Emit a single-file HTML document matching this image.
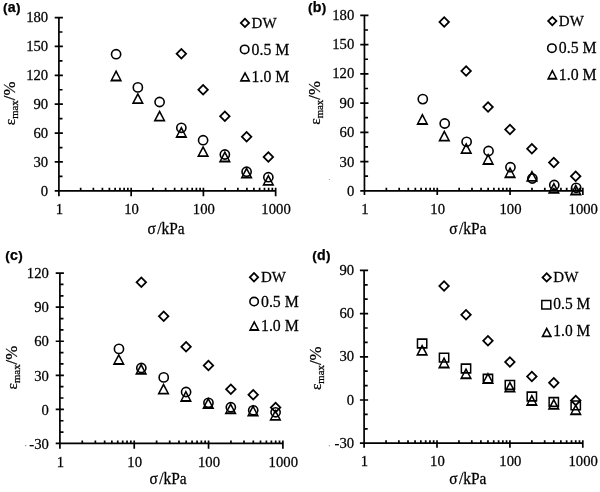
<!DOCTYPE html>
<html><head><meta charset="utf-8"><title>chart</title>
<style>
html,body{margin:0;padding:0;background:#fff;}
body{width:600px;height:492px;overflow:hidden;}
svg{display:block;}
.par{font-size:13.5px;}
.tag{font-family:"Liberation Sans",Arial,sans-serif;font-weight:bold;font-size:14.2px;}
</style></head><body>
<svg width="600" height="492" viewBox="0 0 600 492">
<path d="M58.9 17.55V196.15M54.7 190.85H275.65M54.7 190.85H62.9M54.7 161.97H62.9M54.7 133.08H62.9M54.7 104.2H62.9M54.7 75.32H62.9M54.7 46.43H62.9M54.7 17.55H62.9M58.9 176.41H62.5M58.9 147.53H62.5M58.9 118.64H62.5M58.9 89.76H62.5M58.9 60.88H62.5M58.9 31.99H62.5M80.65 190.85V187.85M93.37 190.85V187.85M102.4 190.85V187.85M109.4 190.85V187.85M115.12 190.85V187.85M119.96 190.85V187.85M124.15 190.85V187.85M127.84 190.85V187.85M131.15 187.85V196.15M152.9 190.85V187.85M165.62 190.85V187.85M174.65 190.85V187.85M181.65 190.85V187.85M187.37 190.85V187.85M192.21 190.85V187.85M196.4 190.85V187.85M200.09 190.85V187.85M203.4 187.85V196.15M225.15 190.85V187.85M237.87 190.85V187.85M246.9 190.85V187.85M253.9 190.85V187.85M259.62 190.85V187.85M264.46 190.85V187.85M268.65 190.85V187.85M272.34 190.85V187.85M275.65 187.85V196.15M364.45 15.4V195M360.25 190.8H582.85M360.25 190.8H368.45M360.25 161.57H368.45M360.25 132.33H368.45M360.25 103.1H368.45M360.25 73.87H368.45M360.25 44.63H368.45M360.25 15.4H368.45M364.45 176.18H368.05M364.45 146.95H368.05M364.45 117.72H368.05M364.45 88.48H368.05M364.45 59.25H368.05M364.45 30.02H368.05M386.36 190.8V187.8M399.18 190.8V187.8M408.28 190.8V187.8M415.34 190.8V187.8M421.1 190.8V187.8M425.97 190.8V187.8M430.19 190.8V187.8M433.92 190.8V187.8M437.25 187.8V195M459.16 190.8V187.8M471.98 190.8V187.8M481.08 190.8V187.8M488.14 190.8V187.8M493.9 190.8V187.8M498.77 190.8V187.8M502.99 190.8V187.8M506.72 190.8V187.8M510.05 187.8V195M531.96 190.8V187.8M544.78 190.8V187.8M553.88 190.8V187.8M560.94 190.8V187.8M566.7 190.8V187.8M571.57 190.8V187.8M575.79 190.8V187.8M579.52 190.8V187.8M582.85 187.8V195M59.9 273.1V448.75M55.7 443.45H282.89M55.7 443.45H63.9M55.7 409.38H63.9M55.7 375.31H63.9M55.7 341.24H63.9M55.7 307.17H63.9M55.7 273.1H63.9M59.9 432.09H63.5M59.9 420.74H63.5M59.9 398.02H63.5M59.9 386.67H63.5M59.9 363.95H63.5M59.9 352.6H63.5M59.9 329.88H63.5M59.9 318.53H63.5M59.9 295.81H63.5M59.9 284.46H63.5M82.28 443.45V440.45M95.36 443.45V440.45M104.65 443.45V440.45M111.85 443.45V440.45M117.74 443.45V440.45M122.72 443.45V440.45M127.03 443.45V440.45M130.83 443.45V440.45M134.23 440.45V448.75M156.61 443.45V440.45M169.69 443.45V440.45M178.98 443.45V440.45M186.18 443.45V440.45M192.07 443.45V440.45M197.05 443.45V440.45M201.36 443.45V440.45M205.16 443.45V440.45M208.56 440.45V448.75M230.94 443.45V440.45M244.02 443.45V440.45M253.31 443.45V440.45M260.51 443.45V440.45M266.4 443.45V440.45M271.38 443.45V440.45M275.69 443.45V440.45M279.49 443.45V440.45M282.89 440.45V448.75M364.1 270.4V447.8M359.9 443.2H582.8M359.9 443.2H368.1M359.9 400H368.1M359.9 356.8H368.1M359.9 313.6H368.1M359.9 270.4H368.1M364.1 428.8H367.7M364.1 414.4H367.7M364.1 385.6H367.7M364.1 371.2H367.7M364.1 342.4H367.7M364.1 328H367.7M364.1 299.2H367.7M364.1 284.8H367.7M386.05 443.2V440.2M398.88 443.2V440.2M407.99 443.2V440.2M415.05 443.2V440.2M420.83 443.2V440.2M425.71 443.2V440.2M429.94 443.2V440.2M433.66 443.2V440.2M437 440.2V447.8M458.95 443.2V440.2M471.78 443.2V440.2M480.89 443.2V440.2M487.95 443.2V440.2M493.73 443.2V440.2M498.61 443.2V440.2M502.84 443.2V440.2M506.56 443.2V440.2M509.9 440.2V447.8M531.85 443.2V440.2M544.68 443.2V440.2M553.79 443.2V440.2M560.85 443.2V440.2M566.63 443.2V440.2M571.51 443.2V440.2M575.74 443.2V440.2M579.46 443.2V440.2M582.8 440.2V447.8" fill="none" stroke="#000" stroke-width="1.7"/>
<path d="M244.95 17.55L250.35 22.95L244.95 28.35L239.55 22.95ZM244.95 20.05L242.05 22.95L244.95 25.85L247.85 22.95ZM245.05 71.19L250.54 81.81L239.56 81.81ZM245.05 74.69L242.16 79.91L247.94 79.91ZM181.35 47.7L187.35 53.7L181.35 59.7L175.35 53.7ZM181.35 50.2L177.85 53.7L181.35 57.2L184.85 53.7ZM203.1 83.7L209.1 89.7L203.1 95.7L197.1 89.7ZM203.1 86.2L199.6 89.7L203.1 93.2L206.6 89.7ZM224.85 110.2L230.85 116.2L224.85 122.2L218.85 116.2ZM224.85 112.7L221.35 116.2L224.85 119.7L228.35 116.2ZM246.6 130.8L252.6 136.8L246.6 142.8L240.6 136.8ZM246.6 133.3L243.1 136.8L246.6 140.3L250.1 136.8ZM268.35 150.9L274.35 156.9L268.35 162.9L262.35 156.9ZM268.35 153.4L264.85 156.9L268.35 160.4L271.85 156.9ZM116.1 69.6L122.2 81.4L110 81.4ZM116.1 73.1L112.6 79.5L119.6 79.5ZM137.85 92.3L143.95 104.1L131.75 104.1ZM137.85 95.8L134.35 102.2L141.35 102.2ZM159.6 109.8L165.7 121.6L153.5 121.6ZM159.6 113.3L156.1 119.7L163.1 119.7ZM181.35 126.1L187.45 137.9L175.25 137.9ZM181.35 129.6L177.85 136L184.85 136ZM203.1 145.3L209.2 157.1L197 157.1ZM203.1 148.8L199.6 155.2L206.6 155.2ZM224.85 150.6L230.95 162.4L218.75 162.4ZM224.85 154.1L221.35 160.5L228.35 160.5ZM246.6 166.7L252.7 178.5L240.5 178.5ZM246.6 170.2L243.1 176.6L250.1 176.6ZM268.35 174L274.45 185.8L262.25 185.8ZM268.35 177.5L264.85 183.9L271.85 183.9ZM552.3 15.7L557.7 21.1L552.3 26.5L546.9 21.1ZM552.3 18.2L549.4 21.1L552.3 24L555.2 21.1ZM552.35 69.04L557.84 79.66L546.86 79.66ZM552.35 72.54L549.46 77.76L555.24 77.76ZM444.21 15.95L450.21 21.95L444.21 27.95L438.21 21.95ZM444.21 18.45L440.71 21.95L444.21 25.45L447.71 21.95ZM466.12 65L472.12 71L466.12 77L460.12 71ZM466.12 67.5L462.62 71L466.12 74.5L469.62 71ZM488.04 100.9L494.04 106.9L488.04 112.9L482.04 106.9ZM488.04 103.4L484.54 106.9L488.04 110.4L491.54 106.9ZM509.95 123.5L515.95 129.5L509.95 135.5L503.95 129.5ZM509.95 126L506.45 129.5L509.95 133L513.45 129.5ZM531.86 142.8L537.86 148.8L531.86 154.8L525.86 148.8ZM531.86 145.3L528.36 148.8L531.86 152.3L535.36 148.8ZM553.78 156.4L559.78 162.4L553.78 168.4L547.78 162.4ZM553.78 158.9L550.28 162.4L553.78 165.9L557.28 162.4ZM575.69 170.2L581.69 176.2L575.69 182.2L569.69 176.2ZM575.69 172.7L572.19 176.2L575.69 179.7L579.19 176.2ZM422.39 113.1L428.49 124.9L416.29 124.9ZM422.39 116.6L418.89 123L425.89 123ZM444.31 129.8L450.41 141.6L438.21 141.6ZM444.31 133.3L440.81 139.7L447.81 139.7ZM466.22 142.3L472.32 154.1L460.12 154.1ZM466.22 145.8L462.72 152.2L469.72 152.2ZM488.14 153.1L494.24 164.9L482.04 164.9ZM488.14 156.6L484.64 163L491.64 163ZM510.05 166.4L516.15 178.2L503.95 178.2ZM510.05 169.9L506.55 176.3L513.55 176.3ZM531.96 170L538.06 181.8L525.86 181.8ZM531.96 173.5L528.46 179.9L535.46 179.9ZM553.88 181.9L559.98 193.7L547.78 193.7ZM553.88 185.4L550.38 191.8L557.38 191.8ZM575.79 183.7L581.89 195.5L569.69 195.5ZM575.79 187.2L572.29 193.6L579.29 193.6ZM254 271.85L259.4 277.25L254 282.65L248.6 277.25ZM254 274.35L251.1 277.25L254 280.15L256.9 277.25ZM254.25 320.29L259.74 330.91L248.76 330.91ZM254.25 323.79L251.36 329.01L257.14 329.01ZM141.33 276.2L147.33 282.2L141.33 288.2L135.33 282.2ZM141.33 278.7L137.83 282.2L141.33 285.7L144.83 282.2ZM163.71 310.3L169.71 316.3L163.71 322.3L157.71 316.3ZM163.71 312.8L160.21 316.3L163.71 319.8L167.21 316.3ZM186.08 340.8L192.08 346.8L186.08 352.8L180.08 346.8ZM186.08 343.3L182.58 346.8L186.08 350.3L189.58 346.8ZM208.46 359.6L214.46 365.6L208.46 371.6L202.46 365.6ZM208.46 362.1L204.96 365.6L208.46 369.1L211.96 365.6ZM230.84 383.3L236.84 389.3L230.84 395.3L224.84 389.3ZM230.84 385.8L227.34 389.3L230.84 392.8L234.34 389.3ZM253.21 388.8L259.21 394.8L253.21 400.8L247.21 394.8ZM253.21 391.3L249.71 394.8L253.21 398.3L256.71 394.8ZM275.59 401.5L281.59 407.5L275.59 413.5L269.59 407.5ZM275.59 404L272.09 407.5L275.59 411L279.09 407.5ZM118.76 353.2L124.86 365L112.66 365ZM118.76 356.7L115.26 363.1L122.26 363.1ZM141.13 363L147.23 374.8L135.03 374.8ZM141.13 366.5L137.63 372.9L144.63 372.9ZM163.51 382.8L169.61 394.6L157.41 394.6ZM163.51 386.3L160.01 392.7L167.01 392.7ZM185.88 390.1L191.98 401.9L179.78 401.9ZM185.88 393.6L182.38 400L189.38 400ZM208.26 397.1L214.36 408.9L202.16 408.9ZM208.26 400.6L204.76 407L211.76 407ZM230.64 402.4L236.74 414.2L224.54 414.2ZM230.64 405.9L227.14 412.3L234.14 412.3ZM253.01 404.6L259.11 416.4L246.91 416.4ZM253.01 408.1L249.51 414.5L256.51 414.5ZM275.39 409L281.49 420.8L269.29 420.8ZM275.39 412.5L271.89 418.9L278.89 418.9ZM546.7 272.05L552.1 277.45L546.7 282.85L541.3 277.45ZM546.7 274.55L543.8 277.45L546.7 280.35L549.6 277.45ZM541.06 299.71H551.54V309.79H541.06ZM542.56 301.31V308.19H550.04V301.31ZM546.7 326.74L552.19 337.36L541.21 337.36ZM546.7 330.24L543.81 335.46L549.59 335.46ZM444.06 279.9L450.06 285.9L444.06 291.9L438.06 285.9ZM444.06 282.4L440.56 285.9L444.06 289.4L447.56 285.9ZM466.01 308.7L472.01 314.7L466.01 320.7L460.01 314.7ZM466.01 311.2L462.51 314.7L466.01 318.2L469.51 314.7ZM487.95 334.8L493.95 340.8L487.95 346.8L481.95 340.8ZM487.95 337.3L484.45 340.8L487.95 344.3L491.45 340.8ZM509.9 356.1L515.9 362.1L509.9 368.1L503.9 362.1ZM509.9 358.6L506.4 362.1L509.9 365.6L513.4 362.1ZM531.85 370.4L537.85 376.4L531.85 382.4L525.85 376.4ZM531.85 372.9L528.35 376.4L531.85 379.9L535.35 376.4ZM553.79 376.8L559.79 382.8L553.79 388.8L547.79 382.8ZM553.79 379.3L550.29 382.8L553.79 386.3L557.29 382.8ZM575.74 394.4L581.74 400.4L575.74 406.4L569.74 400.4ZM575.74 396.9L572.24 400.4L575.74 403.9L579.24 400.4ZM416.72 338.3H427.52V348.7H416.72ZM418.22 339.9V347.1H426.02V339.9ZM438.66 352.4H449.46V362.8H438.66ZM440.16 354V361.2H447.96V354ZM460.61 363.3H471.41V373.7H460.61ZM462.11 364.9V372.1H469.91V364.9ZM482.55 373.6H493.35V384H482.55ZM484.05 375.2V382.4H491.85V375.2ZM504.5 379.7H515.3V390.1H504.5ZM506 381.3V388.5H513.8V381.3ZM526.45 391.3H537.25V401.7H526.45ZM527.95 392.9V400.1H535.75V392.9ZM548.39 396.8H559.19V407.2H548.39ZM549.89 398.4V405.6H557.69V398.4ZM570.34 400.2H581.14V410.6H570.34ZM571.84 401.8V409H579.64V401.8ZM422.12 344L428.22 355.8L416.02 355.8ZM422.12 347.5L418.62 353.9L425.62 353.9ZM444.06 356.6L450.16 368.4L437.96 368.4ZM444.06 360.1L440.56 366.5L447.56 366.5ZM466.01 367.4L472.11 379.2L459.91 379.2ZM466.01 370.9L462.51 377.3L469.51 377.3ZM487.95 372.1L494.05 383.9L481.85 383.9ZM487.95 375.6L484.45 382L491.45 382ZM509.9 380.7L516 392.5L503.8 392.5ZM509.9 384.2L506.4 390.6L513.4 390.6ZM531.85 394.1L537.95 405.9L525.75 405.9ZM531.85 397.6L528.35 404L535.35 404ZM553.79 398L559.89 409.8L547.69 409.8ZM553.79 401.5L550.29 407.9L557.29 407.9ZM575.74 403.4L581.84 415.2L569.64 415.2ZM575.74 406.9L572.24 413.3L579.24 413.3Z" fill="#000" fill-rule="nonzero"/>
<circle cx="244.65" cy="49.4" r="4.22" fill="none" stroke="#000" stroke-width="1.6"/>
<circle cx="116.1" cy="54.2" r="4.6" fill="none" stroke="#000" stroke-width="1.6"/>
<circle cx="137.85" cy="87.4" r="4.6" fill="none" stroke="#000" stroke-width="1.6"/>
<circle cx="159.6" cy="102" r="4.6" fill="none" stroke="#000" stroke-width="1.6"/>
<circle cx="181.35" cy="127.8" r="4.6" fill="none" stroke="#000" stroke-width="1.6"/>
<circle cx="203.1" cy="140.2" r="4.6" fill="none" stroke="#000" stroke-width="1.6"/>
<circle cx="224.85" cy="154.5" r="4.6" fill="none" stroke="#000" stroke-width="1.6"/>
<circle cx="246.6" cy="171.7" r="4.6" fill="none" stroke="#000" stroke-width="1.6"/>
<circle cx="268.35" cy="177.2" r="4.6" fill="none" stroke="#000" stroke-width="1.6"/>
<circle cx="551.9" cy="48.15" r="4.22" fill="none" stroke="#000" stroke-width="1.6"/>
<circle cx="422.79" cy="99.1" r="4.6" fill="none" stroke="#000" stroke-width="1.6"/>
<circle cx="444.71" cy="123.5" r="4.6" fill="none" stroke="#000" stroke-width="1.6"/>
<circle cx="466.62" cy="141.8" r="4.6" fill="none" stroke="#000" stroke-width="1.6"/>
<circle cx="488.54" cy="151" r="4.6" fill="none" stroke="#000" stroke-width="1.6"/>
<circle cx="510.45" cy="167.2" r="4.6" fill="none" stroke="#000" stroke-width="1.6"/>
<circle cx="532.36" cy="178.5" r="4.6" fill="none" stroke="#000" stroke-width="1.6"/>
<circle cx="554.28" cy="185" r="4.6" fill="none" stroke="#000" stroke-width="1.6"/>
<circle cx="576.19" cy="187.8" r="4.6" fill="none" stroke="#000" stroke-width="1.6"/>
<circle cx="254.1" cy="301.55" r="4.22" fill="none" stroke="#000" stroke-width="1.6"/>
<circle cx="118.96" cy="348.9" r="4.6" fill="none" stroke="#000" stroke-width="1.6"/>
<circle cx="141.33" cy="368" r="4.6" fill="none" stroke="#000" stroke-width="1.6"/>
<circle cx="163.71" cy="377.4" r="4.6" fill="none" stroke="#000" stroke-width="1.6"/>
<circle cx="186.08" cy="392" r="4.6" fill="none" stroke="#000" stroke-width="1.6"/>
<circle cx="208.46" cy="402.8" r="4.6" fill="none" stroke="#000" stroke-width="1.6"/>
<circle cx="230.84" cy="407.2" r="4.6" fill="none" stroke="#000" stroke-width="1.6"/>
<circle cx="253.21" cy="410.3" r="4.6" fill="none" stroke="#000" stroke-width="1.6"/>
<circle cx="275.59" cy="412.3" r="4.6" fill="none" stroke="#000" stroke-width="1.6"/>
<g fill="#999"><rect x="25" y="445" width="1.2" height="1.2"/><rect x="328.8" y="445.1" width="1.2" height="1.2"/><rect x="328.9" y="179" width="1" height="1"/></g>
<g font-family="Liberation Serif, serif" font-size="14.7" fill="#000" stroke="#000" stroke-width="0.25">
<text transform="translate(48.2 196.1) scale(1 1.03)" font-size="14.7" text-anchor="end">0</text>
<text transform="translate(48.2 167.06) scale(1 1.03)" font-size="14.7" text-anchor="end">30</text>
<text transform="translate(48.2 138.02) scale(1 1.03)" font-size="14.7" text-anchor="end">60</text>
<text transform="translate(48.2 108.97) scale(1 1.03)" font-size="14.7" text-anchor="end">90</text>
<text transform="translate(48.2 79.93) scale(1 1.03)" font-size="14.7" text-anchor="end">120</text>
<text transform="translate(48.2 50.89) scale(1 1.03)" font-size="14.7" text-anchor="end">150</text>
<text transform="translate(48.2 21.85) scale(1 1.03)" font-size="14.7" text-anchor="end">180</text>
<text transform="translate(59.3 214) scale(1 1.03)" font-size="14.7" text-anchor="middle">1</text>
<text transform="translate(131.55 214) scale(1 1.03)" font-size="14.7" text-anchor="middle">10</text>
<text transform="translate(203.8 214) scale(1 1.03)" font-size="14.7" text-anchor="middle">100</text>
<text transform="translate(276.05 214) scale(1 1.03)" font-size="14.7" text-anchor="middle">1000</text>
<text transform="translate(166 233.7) scale(1 1.03)" font-size="15.4" text-anchor="middle">σ<tspan dx="1.5">/kPa</tspan></text>
<text transform="translate(15.1 125.3) rotate(-90)" font-size="15.3">ε<tspan font-size="10.8" dy="3">max</tspan><tspan dy="-3" font-size="16.8">/%</tspan></text>
<text class="tag" x="3" y="12"><tspan class="par" dy="0.15">(</tspan><tspan dx="0.3" dy="-0.15">a</tspan><tspan class="par" dx="0.3" dy="0.15">)</tspan></text>
<text transform="translate(251.6 27.9) scale(1 1.04)" font-size="15.0">DW</text>
<text transform="translate(251.6 54.7) scale(1 1.06)" font-size="15.8">0.5 M</text>
<text transform="translate(251.6 81.9) scale(1 1.06)" font-size="15.8">1.0 M</text>
<text transform="translate(354.25 195.95) scale(1 1.03)" font-size="14.7" text-anchor="end">0</text>
<text transform="translate(354.25 166.58) scale(1 1.03)" font-size="14.7" text-anchor="end">30</text>
<text transform="translate(354.25 137.22) scale(1 1.03)" font-size="14.7" text-anchor="end">60</text>
<text transform="translate(354.25 107.85) scale(1 1.03)" font-size="14.7" text-anchor="end">90</text>
<text transform="translate(354.25 78.48) scale(1 1.03)" font-size="14.7" text-anchor="end">120</text>
<text transform="translate(354.25 49.12) scale(1 1.03)" font-size="14.7" text-anchor="end">150</text>
<text transform="translate(354.25 19.75) scale(1 1.03)" font-size="14.7" text-anchor="end">180</text>
<text transform="translate(364.85 213.95) scale(1 1.03)" font-size="14.7" text-anchor="middle">1</text>
<text transform="translate(437.65 213.95) scale(1 1.03)" font-size="14.7" text-anchor="middle">10</text>
<text transform="translate(510.45 213.95) scale(1 1.03)" font-size="14.7" text-anchor="middle">100</text>
<text transform="translate(583.25 213.95) scale(1 1.03)" font-size="14.7" text-anchor="middle">1000</text>
<text transform="translate(467.8 234) scale(1 1.03)" font-size="15.4" text-anchor="middle">σ<tspan dx="1.5">/kPa</tspan></text>
<text transform="translate(320.4 124.8) rotate(-90)" font-size="15.3">ε<tspan font-size="10.8" dy="3">max</tspan><tspan dy="-3" font-size="16.8">/%</tspan></text>
<text class="tag" x="308" y="12"><tspan class="par" dy="0.15">(</tspan><tspan dx="0.3" dy="-0.15">b</tspan><tspan class="par" dx="0.3" dy="0.15">)</tspan></text>
<text transform="translate(558.85 25.75) scale(1 1.04)" font-size="15.0">DW</text>
<text transform="translate(558.85 52.7) scale(1 1.06)" font-size="15.8">0.5 M</text>
<text transform="translate(558.85 79.7) scale(1 1.06)" font-size="15.8">1.0 M</text>
<text transform="translate(48.85 449.25) scale(1 1.03)" font-size="14.7" text-anchor="end">-30</text>
<text transform="translate(48.85 414.99) scale(1 1.03)" font-size="14.7" text-anchor="end">0</text>
<text transform="translate(48.85 380.73) scale(1 1.03)" font-size="14.7" text-anchor="end">30</text>
<text transform="translate(48.85 346.47) scale(1 1.03)" font-size="14.7" text-anchor="end">60</text>
<text transform="translate(48.85 312.21) scale(1 1.03)" font-size="14.7" text-anchor="end">90</text>
<text transform="translate(48.85 277.95) scale(1 1.03)" font-size="14.7" text-anchor="end">120</text>
<text transform="translate(60.3 466.5) scale(1 1.03)" font-size="14.7" text-anchor="middle">1</text>
<text transform="translate(134.63 466.5) scale(1 1.03)" font-size="14.7" text-anchor="middle">10</text>
<text transform="translate(208.96 466.5) scale(1 1.03)" font-size="14.7" text-anchor="middle">100</text>
<text transform="translate(283.29 466.5) scale(1 1.03)" font-size="14.7" text-anchor="middle">1000</text>
<text transform="translate(168 484.3) scale(1 1.03)" font-size="15.4" text-anchor="middle">σ<tspan dx="1.5">/kPa</tspan></text>
<text transform="translate(16.5 389.5) rotate(-90)" font-size="15.3">ε<tspan font-size="10.8" dy="3">max</tspan><tspan dy="-3" font-size="16.8">/%</tspan></text>
<text class="tag" x="5.25" y="259.75"><tspan class="par" dy="0.15">(</tspan><tspan dx="0.3" dy="-0.15">c</tspan><tspan class="par" dx="0.3" dy="0.15">)</tspan></text>
<text transform="translate(261 282.2) scale(1 1.04)" font-size="15.0">DW</text>
<text transform="translate(261 306.7) scale(1 1.06)" font-size="15.8">0.5 M</text>
<text transform="translate(261 330.6) scale(1 1.06)" font-size="15.8">1.0 M</text>
<text transform="translate(354.1 448.15) scale(1 1.03)" font-size="14.7" text-anchor="end">-30</text>
<text transform="translate(354.1 404.8) scale(1 1.03)" font-size="14.7" text-anchor="end">0</text>
<text transform="translate(354.1 361.45) scale(1 1.03)" font-size="14.7" text-anchor="end">30</text>
<text transform="translate(354.1 318.1) scale(1 1.03)" font-size="14.7" text-anchor="end">60</text>
<text transform="translate(354.1 274.75) scale(1 1.03)" font-size="14.7" text-anchor="end">90</text>
<text transform="translate(364.5 465.6) scale(1 1.03)" font-size="14.7" text-anchor="middle">1</text>
<text transform="translate(437.4 465.6) scale(1 1.03)" font-size="14.7" text-anchor="middle">10</text>
<text transform="translate(510.3 465.6) scale(1 1.03)" font-size="14.7" text-anchor="middle">100</text>
<text transform="translate(583.2 465.6) scale(1 1.03)" font-size="14.7" text-anchor="middle">1000</text>
<text transform="translate(467.8 484.2) scale(1 1.03)" font-size="15.4" text-anchor="middle">σ<tspan dx="1.5">/kPa</tspan></text>
<text transform="translate(321.3 390.1) rotate(-90)" font-size="15.3">ε<tspan font-size="10.8" dy="3">max</tspan><tspan dy="-3" font-size="16.8">/%</tspan></text>
<text class="tag" x="312.25" y="259.75"><tspan class="par" dy="0.15">(</tspan><tspan dx="0.3" dy="-0.15">d</tspan><tspan class="par" dx="0.3" dy="0.15">)</tspan></text>
<text transform="translate(553.3 281.8) scale(1 1.04)" font-size="15.0">DW</text>
<text transform="translate(553.3 309.3) scale(1 1.06)" font-size="15.45">0.5 M</text>
<text transform="translate(553.3 336.3) scale(1 1.06)" font-size="15.45">1.0 M</text>
</g></svg>
</body></html>
